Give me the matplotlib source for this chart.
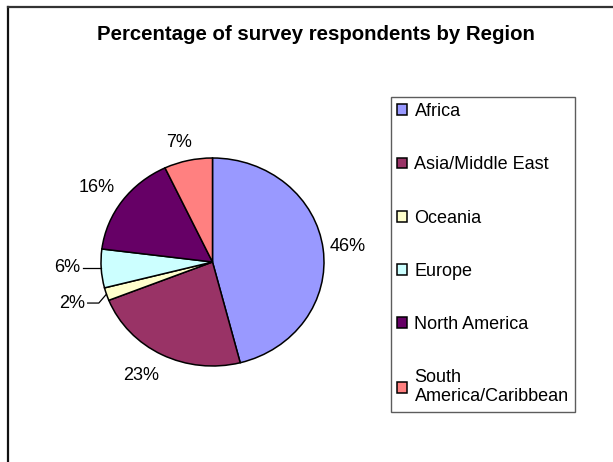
import numpy as np
import matplotlib
matplotlib.use("Agg")
import matplotlib.pyplot as plt
from matplotlib.lines import Line2D

plt.rcParams['font.family'] = ['Liberation Sans', 'DejaVu Sans']

# survey share by region (percent)
regions = ["Africa", "Asia/Middle East", "Oceania", "Europe",
           "North America", "South\nAmerica/Caribbean"]
shares = [46, 23, 2, 6, 16, 7]
colors = ["#9999FF", "#993366", "#FFFFCC", "#CCFFFF", "#660066", "#FF8080"]

# label placement: (distance from centre in radii, angle nudge in degrees)
label_place = [(1.224, -0.4), (1.262, -3.5), (1.32, -0.6),
               (1.306, -1.1), (1.262, 1.2), (1.19, 2.0)]
leader = [False, False, True, True, False, False]

W, H = 613, 462
fig = plt.figure(figsize=(W / 100, H / 100), dpi=100)

# chart area border (top and left only)
fig.add_artist(Line2D([8 / W, 8 / W], [0, 1 - 7 / H], color="#111111", lw=1.6))
fig.add_artist(Line2D([8 / W, 1], [1 - 7 / H, 1 - 7 / H], color="#333333", lw=1.6))

fig.text(316 / W, 1 - 34 / H, "Percentage of survey respondents by Region",
         ha="center", va="center", fontsize=14.7, fontweight="bold")

# pie axes: slightly squashed ellipse
cx, cy, rx, ry = 212.5, 262, 111.5, 104
ax = fig.add_axes([(cx - 1.5 * rx) / W, (H - cy - 1.5 * ry) / H,
                   3 * rx / W, 3 * ry / H])
wedges, _ = ax.pie(shares, colors=colors, startangle=90, counterclock=False,
                   wedgeprops=dict(edgecolor="black", linewidth=1.1))
ax.set_aspect("auto")
ax.set_xlim(-1.5, 1.5)
ax.set_ylim(-1.5, 1.5)
ax.axis("off")

for w, val, (dist, nudge), lead in zip(wedges, shares, label_place, leader):
    mid = (w.theta1 + w.theta2) / 2
    a = np.deg2rad(mid + nudge)
    tx, ty = dist * np.cos(a), dist * np.sin(a)
    ax.text(tx, ty, f"{val}%", ha="center", va="center", fontsize=13, clip_on=False)
    if lead:
        m = np.deg2rad(mid)
        ex, ey = np.cos(m), np.sin(m)
        x0 = tx + 0.14
        if abs(ey - ty) < 0.03:
            ax.plot([x0, ex], [ty, ty], color="black", lw=0.9, clip_on=False)
        else:
            kx = x0 + 0.1
            ax.plot([x0, kx, ex], [ty, ty, ey], color="black", lw=0.9, clip_on=False)

leg = fig.legend(wedges, regions, loc="upper left",
                 bbox_to_anchor=(391 / W, 1 - 97 / H), borderaxespad=0,
                 fontsize=13, fancybox=False, edgecolor="#333333",
                 handlelength=0.55, handleheight=0.55, handletextpad=0.4,
                 labelspacing=2.0, borderpad=0.35)
leg.get_frame().set_linewidth(1.0)

fig.savefig("out.png", dpi=100)
